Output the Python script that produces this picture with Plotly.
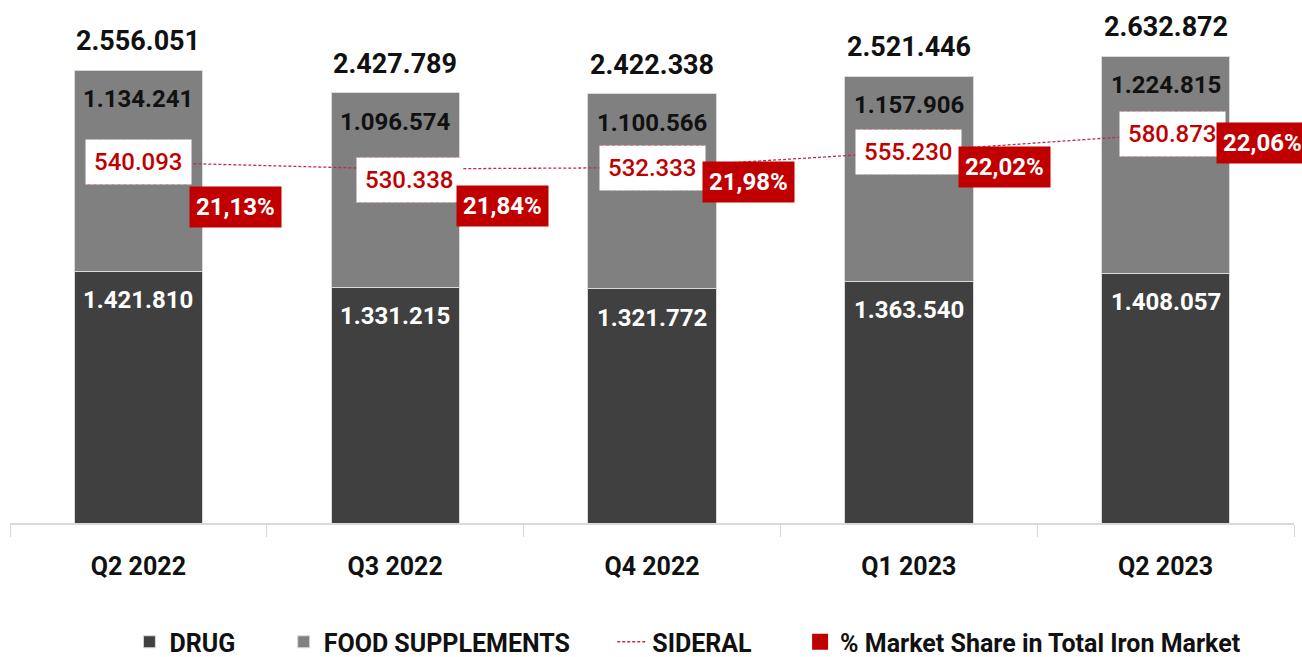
import plotly.graph_objects as go

quarters = ["Q2 2022", "Q3 2022", "Q4 2022", "Q1 2023", "Q2 2023"]
drug = [1421810, 1331215, 1321772, 1363540, 1408057]
food = [1134241, 1096574, 1100566, 1157906, 1224815]
totals = [2556051, 2427789, 2422338, 2521446, 2632872]
sideral = [540093, 530338, 532333, 555230, 580873]
market_share = [21.13, 21.84, 21.98, 22.02, 22.06]

# manual label offsets (pixels)
sid_dx = [0, 14, 0, 0, 7]
sid_dy = [0, -11, 0, 0, 0]
ms_dx = [97, 107, 96, 96, 97]
ms_dy = [-45, -37, -14, -15, -9]

DARK = "#404040"
GREY = "#808080"
RED = "#C00000"
FONT = "Roboto"
NB = "\u00a0"


def fmt(v):
    return f"{v:,}".replace(",", ".")


def pct(v):
    return f"{v:.2f}%".replace(".", ",")


fig = go.Figure()
fig.add_trace(go.Bar(x=quarters, y=drug, name="DRUG" + NB * 7,
                     marker=dict(color=DARK, line=dict(color="#d9d9d9", width=1))))
fig.add_trace(go.Bar(x=quarters, y=food, name="FOOD SUPPLEMENTS" + NB * 6,
                     marker=dict(color=GREY, line=dict(color="#d9d9d9", width=1))))
fig.add_trace(go.Scatter(x=quarters, y=sideral, name="SIDERAL" + NB * 7, mode="lines", yaxis="y2",
                         line=dict(color="#B8304A", width=1.3, dash="3px,2px")))
fig.add_trace(go.Scatter(x=[None], y=[None], name="% Market Share in Total Iron Market", mode="markers",
                         marker=dict(symbol="square", size=18, color=RED)))

ann = []
for i, q in enumerate(quarters):
    ann.append(dict(x=q, y=totals[i], xref="x", yref="y", text=fmt(totals[i]), showarrow=False,
                    yshift=29, font=dict(family=FONT, size=27, color="#111111", weight="bold")))
    ann.append(dict(x=q, y=totals[i], xref="x", yref="y", text=fmt(food[i]), showarrow=False,
                    yshift=-29, font=dict(family=FONT, size=24, color="#111111", weight="bold")))
    ann.append(dict(x=q, y=drug[i], xref="x", yref="y", text=fmt(drug[i]), showarrow=False,
                    yshift=-29, font=dict(family=FONT, size=24, color="white", weight="bold")))
    ann.append(dict(x=q, y=sideral[i], xref="x", yref="y2", text=fmt(sideral[i]), showarrow=False,
                    xshift=sid_dx[i], yshift=sid_dy[i], bgcolor="white", borderpad=8,
                    font=dict(family=FONT, size=24, color=RED, weight=500)))
    ann.append(dict(x=q, y=sideral[i], xref="x", yref="y2", text=pct(market_share[i]), showarrow=False,
                    xshift=ms_dx[i], yshift=ms_dy[i], bgcolor=RED, borderpad=6,
                    font=dict(family=FONT, size=24, color="white", weight="bold")))

shapes = []
for i, q in enumerate(quarters):
    shapes.append(dict(type="rect", xref="x", yref="y2", xsizemode="pixel", ysizemode="pixel",
                       xanchor=i, yanchor=sideral[i],
                       x0=sid_dx[i] - 51, x1=sid_dx[i] + 51, y0=sid_dy[i] - 22, y1=sid_dy[i] + 22,
                       line=dict(color=RED, width=1.2, dash="dot"), fillcolor="rgba(0,0,0,0)", layer="above"))

fig.update_layout(
    width=1302, height=657,
    margin=dict(l=10, r=8, t=10, b=134, autoexpand=False),
    barmode="stack", bargap=0.5,
    plot_bgcolor="white", paper_bgcolor="white",
    font=dict(family=FONT, color="#111111"),
    xaxis=dict(range=[-0.5, 4.5], autorange=False, showline=True, linecolor="#d9d9d9", linewidth=1.5,
               ticks="outside", tickson="boundaries",
               ticklen=12, tickcolor="#d9d9d9", tickwidth=1, ticklabelstandoff=20,
               tickfont=dict(family=FONT, size=25, color="#111111", weight="bold"), showgrid=False),
    yaxis=dict(range=[0, 2894600], autorange=False, visible=False, showgrid=False),
    yaxis2=dict(range=[19000, 760000], autorange=False, overlaying="y", visible=False, showgrid=False),
    showlegend=True,
    legend=dict(orientation="h", x=0.093, xanchor="left", y=-0.232, yanchor="middle",
                font=dict(family=FONT, size=25, color="#111111", weight="bold"), traceorder="normal"),
    annotations=ann,
    shapes=shapes,
)

post = "document.body.style.margin='0';document.body.style.overflow='hidden';"

fig.write_html("out.html", config={"displayModeBar": False}, post_script=post)
